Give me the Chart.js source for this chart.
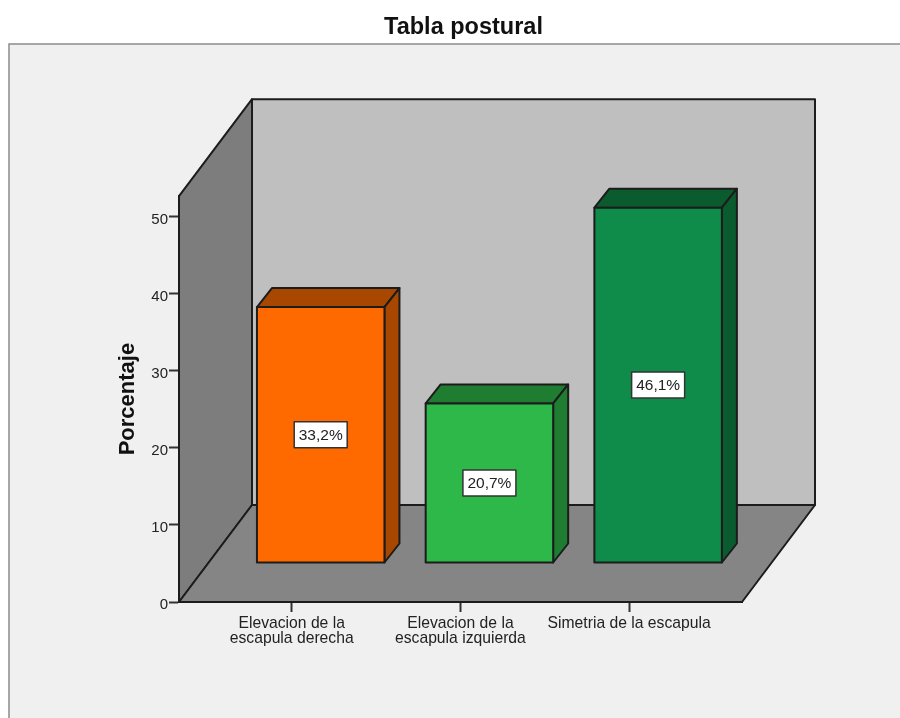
<!DOCTYPE html>
<html>
<head>
<meta charset="utf-8">
<title>Tabla postural</title>
<script src="https://cdn.jsdelivr.net/npm/chart.js@4"></script>
<style>
  html, body { margin: 0; padding: 0; background: #fff; overflow: hidden; }
  canvas { display: block; }
</style>
</head>
<body>
<canvas id="myChart" width="900" height="718"></canvas>
<script>
const categories = [
    ['Elevacion de la', 'escapula derecha'],
    ['Elevacion de la', 'escapula izquierda'],
    ['Simetria de la escapula']
];
const positions = [0, 1, 2];
const percentages = [33.2, 20.7, 46.1];
const yTicks = [0, 10, 20, 30, 40, 50];
const frontColors = ['#ff6a00', '#2fb84a', '#0f8c4a'];
const shadeColors = ['#a84800', '#1f7d32', '#0a5c2f'];

const FONT = '"Liberation Sans", Arial, sans-serif';
const LINE = '#1c1c1c';

// depth of the box and of the bars, in pixels
const wallDepth = { x: 73, y: 97 };
const barDepth = { x: 15, y: 19 };
const barShift = { x: 29, y: -39 };

function polygon(ctx, points, fill) {
    ctx.beginPath();
    points.forEach(function(p, i) {
        if (i === 0) ctx.moveTo(p[0], p[1]);
        else ctx.lineTo(p[0], p[1]);
    });
    ctx.closePath();
    if (fill) {
        ctx.fillStyle = fill;
        ctx.fill();
    }
    ctx.stroke();
}

const box3d = {
    id: 'box3d',
    afterLayout(chart) {
        // title is centred on the frame, not on the canvas
        chart.titleBlock.left = 27;
        chart.titleBlock.right = 900;
    },
    beforeDraw(chart) {
        const ctx = chart.ctx;
        const a = chart.chartArea;
        const dx = wallDepth.x, dy = wallDepth.y;

        ctx.save();
        ctx.fillStyle = '#f0f0f0';
        ctx.fillRect(9, 44, 900, 700);
        ctx.strokeStyle = '#8c8c8c';
        ctx.lineWidth = 1.5;
        ctx.beginPath();
        ctx.moveTo(9, 730);
        ctx.lineTo(9, 44);
        ctx.lineTo(905, 44);
        ctx.stroke();

        ctx.strokeStyle = LINE;
        ctx.lineWidth = 2;
        ctx.lineJoin = 'round';
        polygon(ctx, [[a.left + dx, a.top - dy], [a.right + dx, a.top - dy], [a.right + dx, a.bottom - dy], [a.left + dx, a.bottom - dy]], '#bfbfbf');
        polygon(ctx, [[a.left, a.top], [a.left + dx, a.top - dy], [a.left + dx, a.bottom - dy], [a.left, a.bottom]], '#7d7d7d');
        polygon(ctx, [[a.left, a.bottom], [a.left + dx, a.bottom - dy], [a.right + dx, a.bottom - dy], [a.right, a.bottom]], '#858585');
        ctx.restore();
    },
    beforeDatasetsDraw(chart) {
        const ctx = chart.ctx;
        ctx.save();
        ctx.translate(barShift.x, barShift.y);
        ctx.strokeStyle = LINE;
        ctx.lineWidth = 2;
        ctx.lineJoin = 'round';
        chart.getDatasetMeta(0).data.forEach(function(bar, i) {
            const p = bar.getProps(['x', 'y', 'base', 'width'], true);
            const l = p.x - p.width / 2, r = p.x + p.width / 2;
            const dx = barDepth.x, dy = barDepth.y;
            polygon(ctx, [[l, p.y], [l + dx, p.y - dy], [r + dx, p.y - dy], [r, p.y]], shadeColors[i]);
            polygon(ctx, [[r, p.y], [r + dx, p.y - dy], [r + dx, p.base - dy], [r, p.base]], shadeColors[i]);
        });
    },
    afterDatasetsDraw(chart) {
        const ctx = chart.ctx;
        chart.getDatasetMeta(0).data.forEach(function(bar, i) {
            const p = bar.getProps(['x', 'y', 'base', 'width'], true);
            const cx = p.x, cy = (p.y + p.base) / 2;

            // outline sits on the bar edge, so the front face keeps its full height
            ctx.strokeStyle = LINE;
            ctx.lineWidth = 2;
            ctx.strokeRect(cx - p.width / 2, p.y, p.width, p.base - p.y);

            // value box in the middle of the front face
            const w = 53, h = 26;
            ctx.fillStyle = '#ffffff';
            ctx.strokeStyle = '#333333';
            ctx.lineWidth = 1.5;
            ctx.fillRect(cx - w / 2, cy - h / 2, w, h);
            ctx.strokeRect(cx - w / 2, cy - h / 2, w, h);
            ctx.fillStyle = '#222222';
            ctx.font = '15.5px ' + FONT;
            ctx.textAlign = 'center';
            ctx.textBaseline = 'middle';
            ctx.fillText(percentages[i].toFixed(1).replace('.', ',') + '%', cx, cy + 1);
        });
        ctx.restore();
    }
};

const ctx = document.getElementById('myChart').getContext('2d');
const chart = new Chart(ctx, {
    type: 'bar',
    data: {
        datasets: [{
            data: percentages.map(function(v, i) { return { x: positions[i], y: v }; }),
            backgroundColor: frontColors,
            borderWidth: 0,
            barThickness: 127.5,
            clip: false
        }]
    },
    options: {
        responsive: false,
        animation: false,
        layout: { padding: { top: 13, right: 158, left: 0, bottom: 0 } },
        plugins: {
            legend: { display: false },
            tooltip: { enabled: false },
            title: {
                display: true,
                text: 'Tabla postural',
                color: '#111111',
                font: { family: FONT, size: 23.5, weight: 'bold' },
                padding: { top: 0, bottom: 155 }
            }
        },
        scales: {
            x: {
                type: 'linear',
                offset: false,
                min: -0.668,
                max: 2.669,
                afterBuildTicks(scale) {
                    scale.ticks = positions.map(function(v) { return { value: v }; });
                },
                afterFit(scale) { scale.height = 116; },
                grid: { offset: false, drawOnChartArea: false, color: '#333333', tickLength: 10, tickWidth: 2 },
                border: { color: LINE, width: 2 },
                ticks: {
                    color: '#222222',
                    padding: 4,
                    maxRotation: 0,
                    autoSkip: false,
                    font: { family: FONT, size: 15.7, lineHeight: 0.96 },
                    callback: function(value) { return categories[value]; }
                }
            },
            y: {
                min: 0,
                max: 52.65,
                afterBuildTicks(scale) {
                    scale.ticks = yTicks.map(function(v) { return { value: v }; });
                },
                afterFit(scale) { scale.width = 179; },
                grid: { drawOnChartArea: false, color: '#333333', tickLength: 10, tickWidth: 2 },
                border: { color: LINE, width: 2 },
                ticks: {
                    color: '#222222',
                    padding: 1,
                    labelOffset: 3,
                    font: { family: FONT, size: 15 }
                },
                title: {
                    display: true,
                    text: 'Porcentaje',
                    color: '#111111',
                    font: { family: FONT, size: 22, weight: 'bold' },
                    padding: { top: 115, bottom: 0 }
                }
            }
        }
    },
    plugins: [box3d]
});
</script>
</body>
</html>
